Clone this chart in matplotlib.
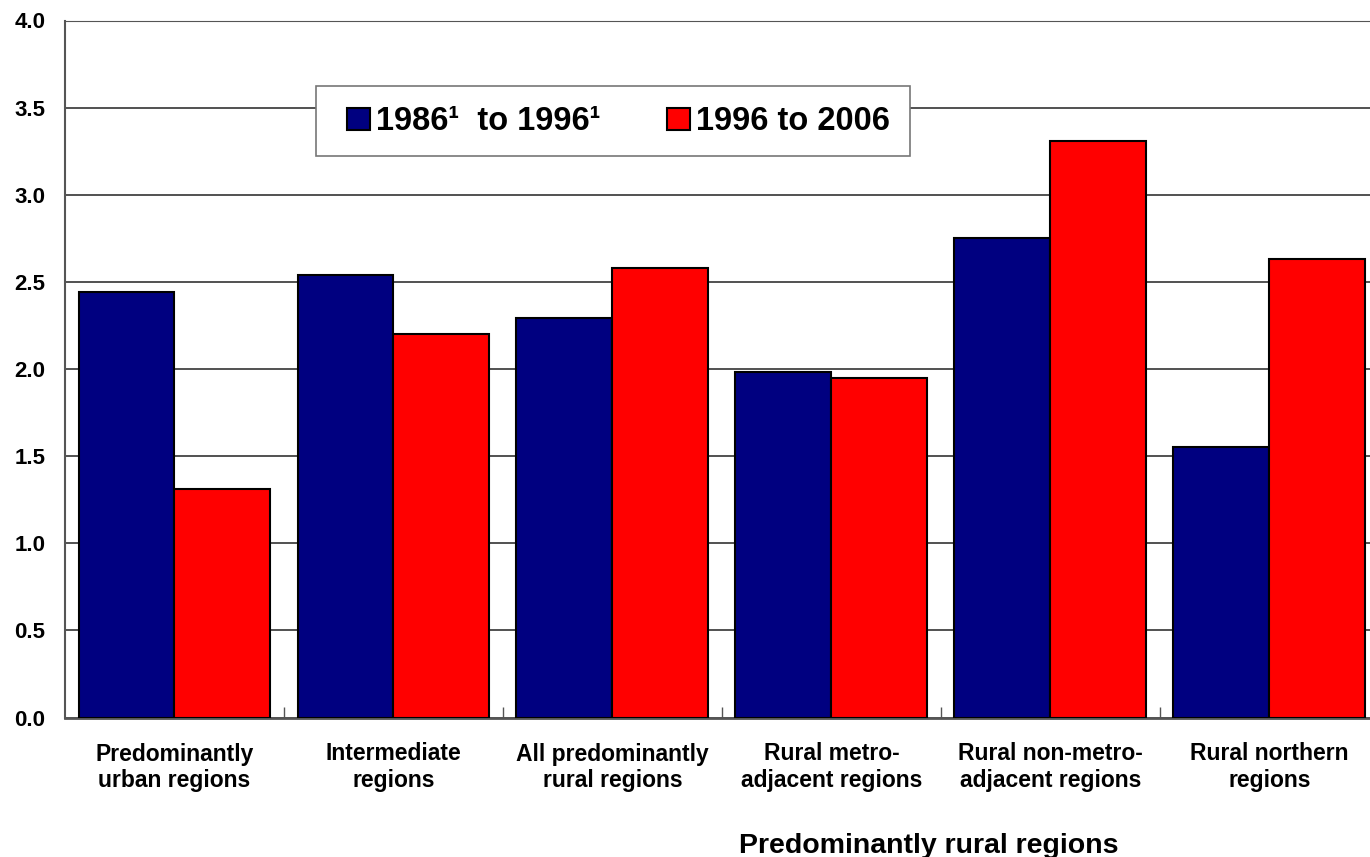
import matplotlib
matplotlib.use("Agg")
import matplotlib.pyplot as plt
from matplotlib.patches import Rectangle
import numpy as np

categories = [
    "Predominantly\nurban regions",
    "Intermediate\nregions",
    "All predominantly\nrural regions",
    "Rural metro-\nadjacent regions",
    "Rural non-metro-\nadjacent regions",
    "Rural northern\nregions",
]
series_names = ["1986\u00b9  to 1996\u00b9", "1996 to 2006"]
values_1986_1996 = [2.44, 2.54, 2.29, 1.98, 2.75, 1.55]
values_1996_2006 = [1.31, 2.20, 2.58, 1.95, 3.31, 2.63]
y_ticks = [0.0, 0.5, 1.0, 1.5, 2.0, 2.5, 3.0, 3.5, 4.0]

plt.rcParams["font.family"] = ["Liberation Sans", "DejaVu Sans"]
plt.rcParams["font.weight"] = "bold"

fig = plt.figure(figsize=(13.7, 8.57), dpi=100)
ax = fig.add_axes([65 / 1370, 1 - 717.5 / 857, 1 - 65 / 1370, (717.5 - 20.5) / 857])

x = np.arange(len(categories))
w = 0.438
ax.bar(x - w / 2, values_1986_1996, width=w, color="#000080", edgecolor="black",
       linewidth=1.5, label=series_names[0], zorder=3)
ax.bar(x + w / 2, values_1996_2006, width=w, color="#FF0000", edgecolor="black",
       linewidth=1.5, label=series_names[1], zorder=3)

ax.set_xlim(-0.5, 5.46)
ax.set_ylim(0, 4.0)
ax.set_yticks(y_ticks)
ax.set_yticklabels([f"{v:.1f}" for v in y_ticks], fontsize=16, fontweight="bold")
ax.tick_params(axis="y", length=0, pad=14)
ax.yaxis.grid(True, color="#333333", linewidth=1.2, zorder=0)

# boundaries between groups get small inward ticks, labels sit at centers
ax.set_xticks(np.arange(0.5, len(categories) - 0.5, 1.0))
ax.set_xticklabels([])
ax.tick_params(axis="x", which="major", direction="in", length=8, color="#555555", width=1)
ax.set_xticks(x, minor=True)
ax.set_xticklabels(categories, minor=True, fontsize=16.5, fontweight="bold", linespacing=1.2)
ax.tick_params(axis="x", which="minor", length=0, pad=18)

ax.spines["right"].set_visible(False)
ax.spines["top"].set_color("#555555")
ax.spines["left"].set_color("#555555")
ax.spines["bottom"].set_color("#555555")
ax.spines["bottom"].set_linewidth(2)
ax.spines["left"].set_linewidth(1.5)

# legend box drawn separately so its size can match the original
box = Rectangle((316 / 1370, 1 - 156 / 857), 594 / 1370, 70 / 857, transform=fig.transFigure,
                facecolor="white", edgecolor="#777777", linewidth=1.2, zorder=4, clip_on=False)
ax.add_patch(box)
leg = ax.legend(loc="center left", bbox_to_anchor=(347 / 1370, 1 - 122 / 857),
                bbox_transform=fig.transFigure, ncol=2, frameon=False,
                prop={"size": 23.5, "weight": "bold"}, handlelength=0.69, handleheight=0.69,
                handletextpad=0.2, columnspacing=2.05, borderpad=0, borderaxespad=0)
leg.set_zorder(5)

fig.text(929 / 1370, 1 - 853 / 857, "Predominantly rural regions",
         ha="center", va="baseline", fontsize=20.5, fontweight="bold")

fig.savefig("out.png", dpi=100)
